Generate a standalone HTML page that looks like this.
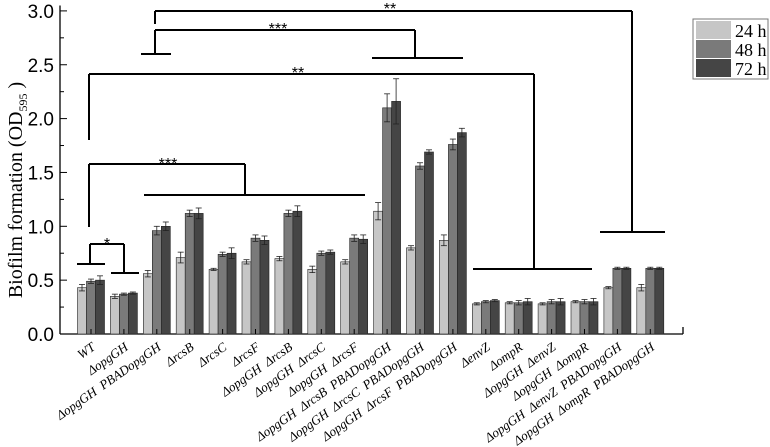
<!DOCTYPE html>
<html><head><meta charset="utf-8"><style>
body{margin:0;background:#fff}
svg{display:block;font-family:"Liberation Serif",serif}
text{white-space:pre}
</style></head><body>
<svg id="chart" width="770" height="447" viewBox="0 0 770 447"></svg>
<script>
const categories=["WT","ΔopgGH","ΔopgGH  PBADopgGH","ΔrcsB","ΔrcsC","ΔrcsF","ΔopgGH  ΔrcsB","ΔopgGH  ΔrcsC","ΔopgGH  ΔrcsF","ΔopgGH  ΔrcsB  PBADopgGH","ΔopgGH  ΔrcsC  PBADopgGH","ΔopgGH  ΔrcsF  PBADopgGH","ΔenvZ","ΔompR","ΔopgGH  ΔenvZ","ΔopgGH  ΔompR","ΔopgGH  ΔenvZ  PBADopgGH","ΔopgGH  ΔompR  PBADopgGH"];
const series24=[0.43,0.35,0.56,0.71,0.60,0.67,0.70,0.60,0.67,1.14,0.80,0.87,0.28,0.29,0.28,0.30,0.43,0.43];
const series48=[0.49,0.37,0.96,1.12,0.74,0.89,1.12,0.75,0.89,2.10,1.56,1.76,0.30,0.29,0.30,0.30,0.61,0.61];
const series72=[0.50,0.38,1.00,1.12,0.75,0.87,1.14,0.76,0.88,2.16,1.69,1.87,0.31,0.30,0.30,0.30,0.61,0.61];
const err24=[0.03,0.02,0.03,0.05,0.01,0.02,0.02,0.03,0.02,0.08,0.02,0.05,0.01,0.01,0.01,0.01,0.01,0.03];
const err48=[0.02,0.01,0.04,0.03,0.02,0.03,0.03,0.02,0.03,0.13,0.03,0.05,0.01,0.02,0.02,0.02,0.01,0.01];
const err72=[0.04,0.01,0.04,0.05,0.05,0.04,0.05,0.02,0.04,0.21,0.02,0.04,0.01,0.03,0.03,0.03,0.01,0.01];
const yTicks=["0.0","0.5","1.0","1.5","2.0","2.5","3.0"];
const seriesNames=["24 h","48 h","72 h"];
const colors=["#c6c6c6","#7a7a7a","#454545"];

const svg=document.getElementById('chart');
const NS="http://www.w3.org/2000/svg";
function mk(t,a,p){const e=document.createElementNS(NS,t);for(const k in a)e.setAttribute(k,a[k]);(p||svg).appendChild(e);return e;}
const X0=60,X1=683,Y0=334,PX=107.7;
const y=v=>Y0-v*PX;
const gx=i=>91+i*32.9;
const bw=9;

let ax=mk('line',{x1:X0,y1:y(3.05),x2:X0,y2:Y0,stroke:'#000','stroke-width':1.3});

let bx=mk('line',{x1:X0,y1:Y0,x2:X1,y2:Y0,stroke:'#000','stroke-width':1.3});

mk('line',{x1:X1,y1:Y0,x2:X1,y2:Y0-7,stroke:'#000','stroke-width':1.3});
for(let k=0;k<=12;k++){const v=k*0.25;const maj=k%2==0;
 mk('line',{x1:X0,y1:y(v),x2:X0+(maj?7:4),y2:y(v),stroke:'#000','stroke-width':1});}
yTicks.forEach(t=>{const e=mk('text',{x:54,y:y(parseFloat(t))+7,'text-anchor':'end','font-family':'Liberation Sans, sans-serif','font-size':19});e.textContent=t;
 });
const yl=mk('text',{transform:'translate(22,190) rotate(-90)','text-anchor':'middle','font-size':20});
yl.innerHTML='Biofilm formation (OD<tspan font-size="12" dy="5">595</tspan><tspan dy="-5"> )</tspan>';


const all=[series24,series48,series72],errs=[err24,err48,err72];
categories.forEach((c,i)=>{
 all.forEach((s,j)=>{const bxp=gx(i)+(j-1)*bw-bw/2;
  const r=mk('rect',{x:bxp,y:y(s[i]),width:bw,height:Y0-y(s[i]),fill:colors[j],stroke:'#222','stroke-width':0.6});
  
  const cx=bxp+bw/2,e=errs[j][i];
  mk('line',{x1:cx,y1:y(s[i]+e),x2:cx,y2:y(s[i]-e),stroke:'#222','stroke-width':0.8});
  mk('line',{x1:cx-3,y1:y(s[i]+e),x2:cx+3,y2:y(s[i]+e),stroke:'#222','stroke-width':0.8});
  mk('line',{x1:cx-3,y1:y(s[i]-e),x2:cx+3,y2:y(s[i]-e),stroke:'#222','stroke-width':0.8});
 });
 mk('line',{x1:gx(i),y1:Y0,x2:gx(i),y2:Y0-5,stroke:'#000','stroke-width':1});
 const t=mk('text',{transform:`translate(${gx(i)+5},${Y0+15}) rotate(-35)`,'text-anchor':'end','font-size':13,'font-style':'italic'});
 t.textContent=c;
});

const br=[
 [[155,24,155,11],[155,11,632,11],[632,11,632,232],[600,232,665,232]],
 [[155,54,155,30],[155,30,415,30],[415,30,415,58],[372,58,463,58],[141,54,171,54]],
 [[89,140,89,74],[89,74,534,74],[534,74,534,269],[473,269,592,269]],
 [[89,227,89,164],[89,164,245,164],[245,164,245,195],[144,195,365,195]],
 [[90,264,90,244],[90,244,124,244],[124,244,124,273],[77,264,105,264],[111,273,139,273]]
];
br.forEach((g,k)=>{const gg=mk('g',{});
 g.forEach(l=>mk('line',{x1:l[0],y1:l[1],x2:l[2],y2:l[3],stroke:'#000','stroke-width':2},gg));});
[[390,14,'**'],[278,34,'***'],[298,78,'**'],[168,169,'***'],[107,249,'*']].forEach(a=>{
 const t=mk('text',{x:a[0],y:a[1],'text-anchor':'middle','font-size':16,'font-family':'Liberation Sans, sans-serif'});t.textContent=a[2];
 });

const lg=mk('g',{});
mk('rect',{x:693,y:19,width:75,height:60,fill:'#fff',stroke:'#777','stroke-width':1},lg);
seriesNames.forEach((n,j)=>{
 mk('rect',{x:696,y:21+j*19,width:35,height:18,fill:colors[j]},lg);
 const t=mk('text',{x:735,y:37+j*19,'font-size':18},lg);t.textContent=n;
 
});
</script>
</body></html>
